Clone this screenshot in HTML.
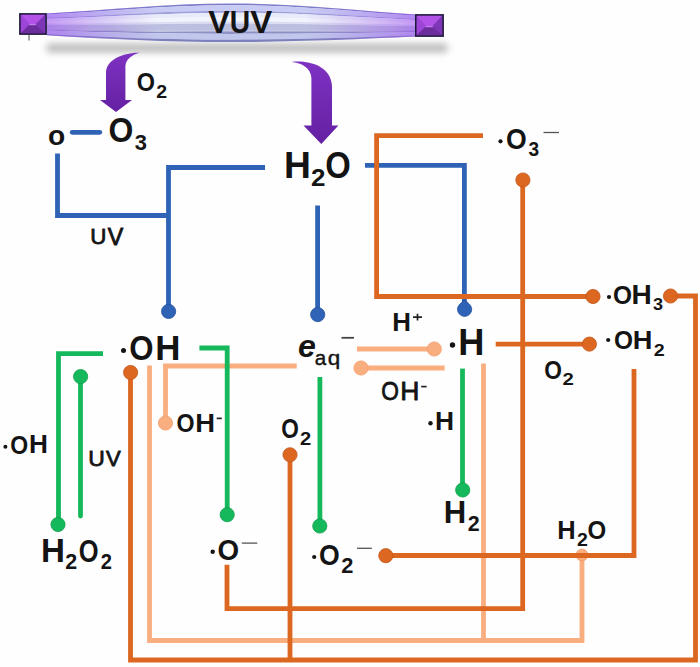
<!DOCTYPE html>
<html><head><meta charset="utf-8"><style>
html,body{margin:0;padding:0;background:#fefefe;}
svg{display:block;font-family:"Liberation Sans",sans-serif;}
</style></head><body>
<svg width="700" height="667" viewBox="0 0 700 667">
<rect width="700" height="667" fill="#fefefe"/>

<defs>
 <linearGradient id="tube" x1="0" y1="0" x2="0" y2="1">
  <stop offset="0" stop-color="#8f86d6"/>
  <stop offset="0.12" stop-color="#d9d9f5"/>
  <stop offset="0.3" stop-color="#b3acea"/>
  <stop offset="0.45" stop-color="#dcdcf4"/>
  <stop offset="0.62" stop-color="#a8a4d8"/>
  <stop offset="0.78" stop-color="#cfcdef"/>
  <stop offset="1" stop-color="#8c88c8"/>
 </linearGradient>
 <linearGradient id="tubeh" x1="0" y1="0" x2="1" y2="0">
  <stop offset="0" stop-color="#a050f0" stop-opacity="0.55"/>
  <stop offset="0.3" stop-color="#9a70e0" stop-opacity="0.0"/>
  <stop offset="0.7" stop-color="#9a70e0" stop-opacity="0.0"/>
  <stop offset="1" stop-color="#a050f0" stop-opacity="0.55"/>
 </linearGradient>
 <radialGradient id="shadow" cx="0.5" cy="0.5" r="0.5">
  <stop offset="0" stop-color="#9a9a9a" stop-opacity="0.7"/>
  <stop offset="0.6" stop-color="#bdbdbd" stop-opacity="0.4"/>
  <stop offset="1" stop-color="#ffffff" stop-opacity="0"/>
 </radialGradient>
 <linearGradient id="arr" x1="0" y1="0" x2="0" y2="1">
  <stop offset="0" stop-color="#7e32c2"/>
  <stop offset="1" stop-color="#6420a2"/>
 </linearGradient>
 <filter id="blur" x="-10%" y="-100%" width="120%" height="300%"><feGaussianBlur stdDeviation="3.8"/></filter>
</defs>
<rect x="46" y="43.5" width="402" height="9" rx="4.5" fill="#a2a2a2" opacity="0.72" filter="url(#blur)"/>
<path d="M47.0,13.40 C110.0,10.00 165.0,3.40 231.0,3.40 C297.0,3.40 352.0,10.00 415.0,14.60 L415.0,15.70 C352.0,11.47 297.0,5.33 231.0,5.33 C165.0,5.33 110.0,11.45 47.0,14.49 Z" fill="#7c7cc8"/>
<path d="M47.0,14.49 C110.0,11.45 165.0,5.33 231.0,5.33 C297.0,5.33 352.0,11.47 415.0,15.70 L415.0,18.78 C352.0,15.61 297.0,10.73 231.0,10.73 C165.0,10.73 110.0,15.51 47.0,17.54 Z" fill="#c8ccf4"/>
<path d="M47.0,17.54 C110.0,15.51 165.0,10.73 231.0,10.73 C297.0,10.73 352.0,15.61 415.0,18.78 L415.0,19.88 C352.0,17.08 297.0,12.66 231.0,12.66 C165.0,12.66 110.0,16.96 47.0,18.63 Z" fill="#9ea0dc"/>
<path d="M47.0,18.63 C110.0,16.96 165.0,12.66 231.0,12.66 C297.0,12.66 352.0,17.08 415.0,19.88 L415.0,22.52 C352.0,20.62 297.0,17.30 231.0,17.30 C165.0,17.30 110.0,20.44 47.0,21.25 Z" fill="#e8ecfa"/>
<path d="M47.0,21.25 C110.0,20.44 165.0,17.30 231.0,17.30 C297.0,17.30 352.0,20.62 415.0,22.52 L415.0,24.72 C352.0,23.57 297.0,21.16 231.0,21.16 C165.0,21.16 110.0,23.34 47.0,23.43 Z" fill="#f2f4fc"/>
<path d="M47.0,23.43 C110.0,23.34 165.0,21.16 231.0,21.16 C297.0,21.16 352.0,23.57 415.0,24.72 L415.0,26.04 C352.0,25.34 297.0,23.47 231.0,23.47 C165.0,23.47 110.0,25.08 47.0,24.74 Z" fill="#dcdff2"/>
<path d="M47.0,24.74 C110.0,25.08 165.0,23.47 231.0,23.47 C297.0,23.47 352.0,25.34 415.0,26.04 L415.0,30.00 C352.0,30.65 297.0,30.42 231.0,30.42 C165.0,30.42 110.0,30.30 47.0,28.66 Z" fill="#bcc0e0"/>
<path d="M47.0,28.66 C110.0,30.30 165.0,30.42 231.0,30.42 C297.0,30.42 352.0,30.65 415.0,30.00 L415.0,30.88 C352.0,31.83 297.0,31.96 231.0,31.96 C165.0,31.96 110.0,31.46 47.0,29.53 Z" fill="#acb0d6"/>
<path d="M47.0,29.53 C110.0,31.46 165.0,31.96 231.0,31.96 C297.0,31.96 352.0,31.83 415.0,30.88 L415.0,31.98 C352.0,33.30 297.0,33.89 231.0,33.89 C165.0,33.89 110.0,32.91 47.0,30.62 Z" fill="#8c90c4"/>
<path d="M47.0,30.62 C110.0,32.91 165.0,33.89 231.0,33.89 C297.0,33.89 352.0,33.30 415.0,31.98 L415.0,35.28 C352.0,37.73 297.0,39.68 231.0,39.68 C165.0,39.68 110.0,37.26 47.0,33.89 Z" fill="#c0c6ec"/>
<path d="M47.0,33.89 C110.0,37.26 165.0,39.68 231.0,39.68 C297.0,39.68 352.0,37.73 415.0,35.28 L415.0,36.60 C352.0,39.50 297.0,42.00 231.0,42.00 C165.0,42.00 110.0,39.00 47.0,35.20 Z" fill="#7c80bc"/>
<path d="M47.0,13.40 C110.0,10.00 165.0,3.40 231.0,3.40 C297.0,3.40 352.0,10.00 415.0,14.60 L415.0,36.60 C352.0,39.50 297.0,42.00 231.0,42.00 C165.0,42.00 110.0,39.00 47.0,35.20 Z" fill="url(#tubeh)"/>
<rect x="19.1" y="13.1" width="27.80" height="21.80" fill="#1c1838"/><rect x="20.8" y="14.799999999999999" width="24.40" height="18.40" fill="#8a3ec4"/><path d="M20.8,14.799999999999999 H45.199999999999996 L35.4,24.6 H29.7 Z" fill="#b352e6"/><path d="M20.8,14.799999999999999 L29.7,24.6 L20.8,33.199999999999996 Z" fill="#9c45d6"/><path d="M45.199999999999996,14.799999999999999 L35.4,24.6 L45.199999999999996,33.199999999999996 Z" fill="#7d37b6"/><path d="M20.8,33.199999999999996 L29.7,24.6 H35.4 L45.199999999999996,33.199999999999996 Z" fill="#6b2c9c"/><path d="M28.7,24.0 H36.4 L35.4,25.200000000000003 H29.7 Z" fill="#cf8ef2" opacity="0.8"/>
<rect x="415" y="14.1" width="28.90" height="22.80" fill="#1c1838"/><rect x="416.7" y="15.799999999999999" width="25.50" height="19.40" fill="#8a3ec4"/><path d="M416.7,15.799999999999999 H442.2 L432.3,26.6 H425.9 Z" fill="#b352e6"/><path d="M416.7,15.799999999999999 L425.9,26.6 L416.7,35.199999999999996 Z" fill="#9c45d6"/><path d="M442.2,15.799999999999999 L432.3,26.6 L442.2,35.199999999999996 Z" fill="#7d37b6"/><path d="M416.7,35.199999999999996 L425.9,26.6 H432.3 L442.2,35.199999999999996 Z" fill="#6b2c9c"/><path d="M424.9,26.0 H433.3 L432.3,27.200000000000003 H425.9 Z" fill="#cf8ef2" opacity="0.8"/>
<line x1="29" y1="35" x2="29" y2="40.6" stroke="#808080" stroke-width="1.4"/>
<path d="M140,52.6 C126,53 107,58 106,72 L106,100 L100,100 L116,112 L132,100 L125.4,100 L125.4,66 C126,59 132,55 140,52.6 Z" fill="url(#arr)"/>
<path d="M291.4,62 C305,60 331,64 332,86 L332,125.5 L338.4,125.5 L321.3,144 L303.5,125.5 L311.4,125.5 L311.4,78 C311,68 302,63 291.4,62 Z" fill="url(#arr)"/>

<path d="M149.5,365.5 V640.5 H582 V555.5" stroke="#f9ae80" stroke-width="4.8" fill="none" stroke-linecap="butt" stroke-linejoin="miter"/>
<path d="M483.5,363.4 V640.5" stroke="#f9ae80" stroke-width="4.8" fill="none" stroke-linecap="butt" stroke-linejoin="miter"/>
<path d="M296.7,366 H165.5 V423" stroke="#f9ae80" stroke-width="4.8" fill="none" stroke-linecap="butt" stroke-linejoin="miter"/>
<circle cx="165.5" cy="423" r="7.1" fill="#f9ae80" stroke="#f39c6a" stroke-width="0.8"/>
<path d="M357,349 H434.3" stroke="#f9ae80" stroke-width="4.8" fill="none" stroke-linecap="butt" stroke-linejoin="miter"/>
<circle cx="434.3" cy="349" r="7.1" fill="#f9ae80" stroke="#f39c6a" stroke-width="0.8"/>
<path d="M361,368 H444.6" stroke="#f9ae80" stroke-width="4.8" fill="none" stroke-linecap="butt" stroke-linejoin="miter"/>
<circle cx="361" cy="368" r="7.1" fill="#f9ae80" stroke="#f39c6a" stroke-width="0.8"/>
<circle cx="582" cy="555" r="5.8999999999999995" fill="#f9ae80" stroke="#f39c6a" stroke-width="0.8"/>
<path d="M72.2,132.3 H99.8" stroke="#2f63b6" stroke-width="4.8" fill="none" stroke-linecap="round" stroke-linejoin="miter"/>
<path d="M57.5,153.5 V215.5 H168.5" stroke="#2f63b6" stroke-width="4.8" fill="none" stroke-linecap="butt" stroke-linejoin="miter"/>
<path d="M265,167.5 H168.5 V311.5" stroke="#2f63b6" stroke-width="4.8" fill="none" stroke-linecap="butt" stroke-linejoin="miter"/>
<circle cx="168.6" cy="311.4" r="7.1" fill="#2f63b6" stroke="#22509c" stroke-width="0.8"/>
<path d="M317.6,205.5 V312" stroke="#2f63b6" stroke-width="4.8" fill="none" stroke-linecap="butt" stroke-linejoin="miter"/>
<circle cx="317.7" cy="314.6" r="7.1" fill="#2f63b6" stroke="#22509c" stroke-width="0.8"/>
<path d="M365,165.3 H464.4 V306" stroke="#2f63b6" stroke-width="4.8" fill="none" stroke-linecap="butt" stroke-linejoin="miter"/>
<path d="M464.6,300.2 C467.5,302.5 471.7,305 471.7,309.3 A7.1,7.1 0 1 1 457.5,309.3 C457.5,305 461.7,302.5 464.6,300.2 Z" fill="#2f63b6" stroke="#22509c" stroke-width="0.8"/>
<path d="M483,135.7 H376.6 V296.5 H593" stroke="#db6720" stroke-width="4.8" fill="none" stroke-linecap="butt" stroke-linejoin="miter"/>
<circle cx="593" cy="296.5" r="7.1" fill="#db6720" stroke="#c4561a" stroke-width="0.8"/>
<path d="M522.7,180 V608.6 H227 V564.7" stroke="#db6720" stroke-width="4.8" fill="none" stroke-linecap="butt" stroke-linejoin="miter"/>
<circle cx="522.9" cy="180" r="7.1" fill="#db6720" stroke="#c4561a" stroke-width="0.8"/>
<path d="M670.5,296 H695.5 V660 H130.5 V372.5" stroke="#db6720" stroke-width="4.8" fill="none" stroke-linecap="butt" stroke-linejoin="miter"/>
<circle cx="670.5" cy="296" r="7.1" fill="#db6720" stroke="#c4561a" stroke-width="0.8"/>
<circle cx="130.6" cy="372.5" r="7.1" fill="#db6720" stroke="#c4561a" stroke-width="0.8"/>
<path d="M495.7,344.2 H589.4" stroke="#db6720" stroke-width="4.8" fill="none" stroke-linecap="butt" stroke-linejoin="miter"/>
<circle cx="589.4" cy="344.1" r="7.1" fill="#db6720" stroke="#c4561a" stroke-width="0.8"/>
<path d="M634,369 V555.5 H385.8" stroke="#db6720" stroke-width="4.8" fill="none" stroke-linecap="butt" stroke-linejoin="miter"/>
<circle cx="385.8" cy="555.7" r="7.1" fill="#db6720" stroke="#c4561a" stroke-width="0.8"/>
<path d="M290,454.8 V660" stroke="#db6720" stroke-width="4.8" fill="none" stroke-linecap="butt" stroke-linejoin="miter"/>
<circle cx="290" cy="454.8" r="7.1" fill="#db6720" stroke="#c4561a" stroke-width="0.8"/>
<path d="M103,353.7 H58.5 V524.5" stroke="#15b85b" stroke-width="4.8" fill="none" stroke-linecap="butt" stroke-linejoin="miter"/>
<circle cx="58" cy="524.5" r="7.1" fill="#15b85b" stroke="#0f9e4c" stroke-width="0.8"/>
<path d="M80.5,376.6 V516" stroke="#15b85b" stroke-width="4.8" fill="none" stroke-linecap="round" stroke-linejoin="miter"/>
<circle cx="80.6" cy="376.6" r="7.1" fill="#15b85b" stroke="#0f9e4c" stroke-width="0.8"/>
<path d="M199.4,348 H227.2 V514.7" stroke="#15b85b" stroke-width="4.8" fill="none" stroke-linecap="butt" stroke-linejoin="miter"/>
<circle cx="227.2" cy="514.7" r="7.1" fill="#15b85b" stroke="#0f9e4c" stroke-width="0.8"/>
<path d="M319.9,377 V526" stroke="#15b85b" stroke-width="4.8" fill="none" stroke-linecap="butt" stroke-linejoin="miter"/>
<circle cx="319.8" cy="526" r="7.1" fill="#15b85b" stroke="#0f9e4c" stroke-width="0.8"/>
<path d="M462.5,368.6 V490" stroke="#15b85b" stroke-width="4.8" fill="none" stroke-linecap="butt" stroke-linejoin="miter"/>
<circle cx="462.7" cy="490" r="7.1" fill="#15b85b" stroke="#0f9e4c" stroke-width="0.8"/>
<text transform="translate(208.28,33.00) scale(1.053,1)" font-size="30.52" style="font-weight:bold" fill="#141414">V</text>
<text transform="translate(229.80,33.20) scale(0.918,1)" font-size="30.81" style="font-weight:bold" fill="#141414">U</text>
<text transform="translate(250.28,33.00) scale(1.078,1)" font-size="30.52" style="font-weight:bold" fill="#141414">V</text>
<text transform="translate(136.74,91.15) scale(0.908,1)" font-size="25.85" style="font-weight:bold" fill="#141414">O</text>
<text transform="translate(156.22,98.30) scale(1.108,1)" font-size="17.62" style="font-weight:bold" fill="#141414">2</text>
<text transform="translate(108.49,141.56) scale(0.927,1)" font-size="34.46" style="font-weight:bold" fill="#141414">O</text>
<text transform="translate(134.70,149.94) scale(0.954,1)" font-size="22.97" style="font-weight:bold" fill="#141414">3</text>
<text transform="translate(48.10,145.02) scale(0.989,1)" font-size="28.47" style="font-weight:bold" fill="#141414">o</text>
<text transform="translate(90.37,244.48) scale(0.981,1)" font-size="22.79" style="font-weight:normal" fill="#141414" stroke="#141414" stroke-width="0.8" stroke-linejoin="round">U</text>
<text transform="translate(107.80,244.70) scale(1.006,1)" font-size="23.11" style="font-weight:normal" fill="#141414" stroke="#141414" stroke-width="0.8" stroke-linejoin="round">V</text>
<text transform="translate(284.01,177.90) scale(1.025,1)" font-size="36.34" style="font-weight:bold" fill="#141414">H</text>
<text transform="translate(311.10,186.00) scale(1.112,1)" font-size="23.34" style="font-weight:bold" fill="#141414">2</text>
<text transform="translate(325.35,178.05) scale(0.911,1)" font-size="36.02" style="font-weight:bold" fill="#141414">O</text>
<text transform="translate(505.91,149.21) scale(0.898,1)" font-size="29.66" style="font-weight:bold" fill="#141414">O</text>
<text transform="translate(528.56,156.26) scale(0.904,1)" font-size="21.14" style="font-weight:bold" fill="#141414">3</text>
<text transform="translate(613.00,303.74) scale(0.936,1)" font-size="26.13" style="font-weight:bold" fill="#141414">O</text>
<text transform="translate(631.62,304.00) scale(1.044,1)" font-size="26.89" style="font-weight:bold" fill="#141414">H</text>
<text transform="translate(653.08,309.82) scale(1.117,1)" font-size="16.21" style="font-weight:bold" fill="#141414">3</text>
<text transform="translate(614.00,349.24) scale(0.936,1)" font-size="26.13" style="font-weight:bold" fill="#141414">O</text>
<text transform="translate(632.68,349.00) scale(1.040,1)" font-size="26.16" style="font-weight:bold" fill="#141414">H</text>
<text transform="translate(653.82,355.50) scale(1.253,1)" font-size="15.75" style="font-weight:bold" fill="#141414">2</text>
<text transform="translate(129.22,359.66) scale(0.884,1)" font-size="35.31" style="font-weight:bold" fill="#141414">O</text>
<text transform="translate(155.17,359.80) scale(1.008,1)" font-size="34.59" style="font-weight:bold" fill="#141414">H</text>
<text transform="translate(298.01,356.69) scale(1.007,1)" font-size="31.94" style="font-weight:bold;font-style:italic" fill="#141414">e</text>
<text transform="translate(314.82,365.11) scale(1.067,1)" font-size="19.35" style="font-weight:normal" fill="#141414" stroke="#141414" stroke-width="0.4" stroke-linejoin="round">a</text>
<text transform="translate(327.76,365.24) scale(1.146,1)" font-size="19.58" style="font-weight:normal" fill="#141414" stroke="#141414" stroke-width="0.4" stroke-linejoin="round">q</text>
<text transform="translate(392.37,331.40) scale(0.988,1)" font-size="26.16" style="font-weight:bold" fill="#141414">H</text>
<text transform="translate(458.28,354.90) scale(0.993,1)" font-size="36.48" style="font-weight:bold" fill="#141414">H</text>
<text transform="translate(381.32,400.04) scale(0.869,1)" font-size="26.13" style="font-weight:normal" fill="#141414" stroke="#141414" stroke-width="0.8" stroke-linejoin="round">O</text>
<text transform="translate(400.23,399.90) scale(1.036,1)" font-size="25.58" style="font-weight:normal" fill="#141414" stroke="#141414" stroke-width="0.8" stroke-linejoin="round">H</text>
<text transform="translate(544.17,379.14) scale(0.856,1)" font-size="26.55" style="font-weight:bold" fill="#141414">O</text>
<text transform="translate(562.39,385.10) scale(1.184,1)" font-size="17.19" style="font-weight:bold" fill="#141414">2</text>
<text transform="translate(176.55,431.84) scale(0.868,1)" font-size="26.69" style="font-weight:bold" fill="#141414">O</text>
<text transform="translate(195.27,431.70) scale(1.041,1)" font-size="26.31" style="font-weight:bold" fill="#141414">H</text>
<text transform="translate(10.16,453.54) scale(0.877,1)" font-size="26.27" style="font-weight:bold" fill="#141414">O</text>
<text transform="translate(28.95,453.40) scale(0.990,1)" font-size="26.45" style="font-weight:bold" fill="#141414">H</text>
<text transform="translate(88.33,465.98) scale(0.998,1)" font-size="22.93" style="font-weight:normal" fill="#141414" stroke="#141414" stroke-width="0.8" stroke-linejoin="round">U</text>
<text transform="translate(105.90,465.60) scale(0.984,1)" font-size="22.38" style="font-weight:normal" fill="#141414" stroke="#141414" stroke-width="0.8" stroke-linejoin="round">V</text>
<text transform="translate(40.88,562.40) scale(1.023,1)" font-size="32.41" style="font-weight:bold" fill="#141414">H</text>
<text transform="translate(65.26,569.30) scale(1.003,1)" font-size="21.34" style="font-weight:bold" fill="#141414">2</text>
<text transform="translate(78.66,562.09) scale(0.809,1)" font-size="31.50" style="font-weight:bold" fill="#141414">O</text>
<text transform="translate(100.70,569.30) scale(0.944,1)" font-size="21.34" style="font-weight:bold" fill="#141414">2</text>
<text transform="translate(281.37,438.14) scale(0.838,1)" font-size="26.98" style="font-weight:bold" fill="#141414">O</text>
<text transform="translate(299.90,444.70) scale(1.117,1)" font-size="18.05" style="font-weight:bold" fill="#141414">2</text>
<text transform="translate(217.56,559.50) scale(0.919,1)" font-size="30.23" style="font-weight:bold" fill="#141414">O</text>
<text transform="translate(318.91,565.21) scale(0.898,1)" font-size="29.66" style="font-weight:bold" fill="#141414">O</text>
<text transform="translate(341.24,573.00) scale(1.015,1)" font-size="21.48" style="font-weight:bold" fill="#141414">2</text>
<text transform="translate(435.04,430.30) scale(1.008,1)" font-size="26.16" style="font-weight:bold" fill="#141414">H</text>
<text transform="translate(443.72,523.40) scale(0.996,1)" font-size="31.25" style="font-weight:bold" fill="#141414">H</text>
<text transform="translate(467.86,531.10) scale(1.009,1)" font-size="21.20" style="font-weight:bold" fill="#141414">2</text>
<text transform="translate(557.19,538.60) scale(0.997,1)" font-size="25.58" style="font-weight:bold" fill="#141414">H</text>
<text transform="translate(577.02,545.80) scale(1.065,1)" font-size="18.33" style="font-weight:bold" fill="#141414">2</text>
<text transform="translate(587.41,538.75) scale(0.935,1)" font-size="25.71" style="font-weight:bold" fill="#141414">O</text>
<circle cx="500.5" cy="141.3" r="2.1" fill="#141414"/>
<line x1="543.5" y1="132.5" x2="559" y2="132.5" stroke="#555" stroke-width="1.3"/>
<circle cx="609" cy="297" r="2.1" fill="#141414"/>
<circle cx="608.2" cy="340" r="2.1" fill="#141414"/>
<circle cx="123.5" cy="350.5" r="2.5" fill="#141414"/>
<line x1="341.5" y1="337.8" x2="354" y2="337.8" stroke="#444" stroke-width="1.8"/>
<path d="M413,317.2 h9 M417.5,313.8 v6.6" stroke="#222" stroke-width="1.7"/>
<circle cx="452.5" cy="345" r="2.7" fill="#141414"/>
<line x1="421.2" y1="386.6" x2="426.6" y2="386.6" stroke="#222" stroke-width="1.7"/>
<line x1="216.7" y1="418.4" x2="221.8" y2="418.4" stroke="#222" stroke-width="1.7"/>
<circle cx="5.4" cy="446.8" r="2" fill="#141414"/>
<circle cx="212.7" cy="551.7" r="2.2" fill="#141414"/>
<line x1="241.8" y1="543.1" x2="257.3" y2="543.1" stroke="#555" stroke-width="1.3"/>
<circle cx="314.2" cy="557" r="2.1" fill="#141414"/>
<line x1="357" y1="548.3" x2="371.8" y2="548.3" stroke="#555" stroke-width="1.3"/>
<circle cx="430.5" cy="423.3" r="2.2" fill="#141414"/>
</svg>
</body></html>
